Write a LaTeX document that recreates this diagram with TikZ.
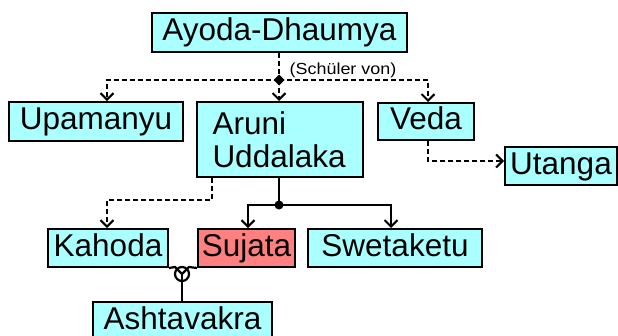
\documentclass[tikz,border=0pt]{standalone}
\usepackage{fontspec}
\setmainfont{Liberation Sans}
\newfontfamily\labfont{Liberation Sans}[FakeStretch=1.12]
\usetikzlibrary{arrows.meta,calc}
\definecolor{boxcyan}{RGB}{170,255,255}
\definecolor{boxred}{RGB}{255,128,128}
\begin{document}
\begin{tikzpicture}[x=1pt,y=-1pt,
  person/.style={draw=black,line width=2pt,fill=boxcyan,inner sep=0pt,
    font=\fontsize{31.5}{33}\selectfont,text height=22pt,text depth=6pt},
  conn/.style={line width=2.2pt},
  dconn/.style={line width=2.2pt,dash pattern=on 5pt off 3pt},
  tip/.style={-{Straight Barb[length=6.5pt,width=13pt,line width=2pt]}}
]
\useasboundingbox (0,0) rectangle (618,335);
% nodes
\node[person,minimum width=255,minimum height=39] (ayoda) at (279.5,32.5) {Ayoda-Dhaumya};
\node[person,minimum width=174,minimum height=39] (upa) at (96,121.5) {Upamanyu};
\node[person,minimum width=166,minimum height=75,align=left,text width=135,inner xsep=15pt,
      text height=,text depth=] (aruni) at (280,139.5) {Aruni\\Uddalaka};
\node[person,minimum width=96,minimum height=37] (veda) at (426,121.5) {Veda};
\node[person,minimum width=112,minimum height=38] (utanga) at (561,166) {Utanga};
\node[person,minimum width=120,minimum height=38] (kahoda) at (108,248) {Kahoda};
\node[person,fill=boxred,minimum width=97,minimum height=38] (sujata) at (246.5,248) {Sujata};
\node[person,minimum width=174,minimum height=38] (swet) at (395,248) {Swetaketu};
\node[person,minimum width=179,minimum height=38] (ashta) at (182.5,321) {Ashtavakra};
\node[font=\labfont\fontsize{16}{18}\selectfont,inner sep=0pt] (lab) at (343,70) {(Schüler von)};
% pupils of Ayoda-Dhaumya
\coordinate (j) at (279,80);
\draw[dconn] (ayoda.south -| j) -- (j);
\draw[dconn,tip] (j) -| ([xshift=11pt]upa.north);
\draw[dconn,tip] (j) -- (j |- aruni.north);
\draw[dconn,tip] (j) -| ([xshift=2pt]veda.north);
\fill (j) +(-5.5,0) -- +(0,-5.5) -- +(5.5,0) -- +(0,5.5) -- cycle;
% Veda -> Utanga
\draw[dconn,tip] ([xshift=2pt]veda.south) |- ([yshift=5pt]utanga.west);
% Aruni -> Kahoda
\draw[dconn,tip] ([xshift=-68pt]aruni.south) -- ++(0,22) -| ([xshift=-1pt]kahoda.north);
% Aruni children
\coordinate (d) at (279,205);
\draw[conn] ([xshift=-1pt]aruni.south) -- (d);
\draw[conn,tip] (d) -| ([xshift=1.5pt]sujata.north);
\draw[conn,tip] (d) -| ([xshift=-4pt]swet.north);
\fill (d) circle (4.5);
% marriage
\coordinate (m) at (182,274);
\draw[conn] (kahoda.south east) -- (175,267) -- (m) -- (189,267) -- (sujata.south west);
\draw[conn] (m) circle (7);
\draw[conn] (m) -- (m |- ashta.north);
\end{tikzpicture}
\end{document}
